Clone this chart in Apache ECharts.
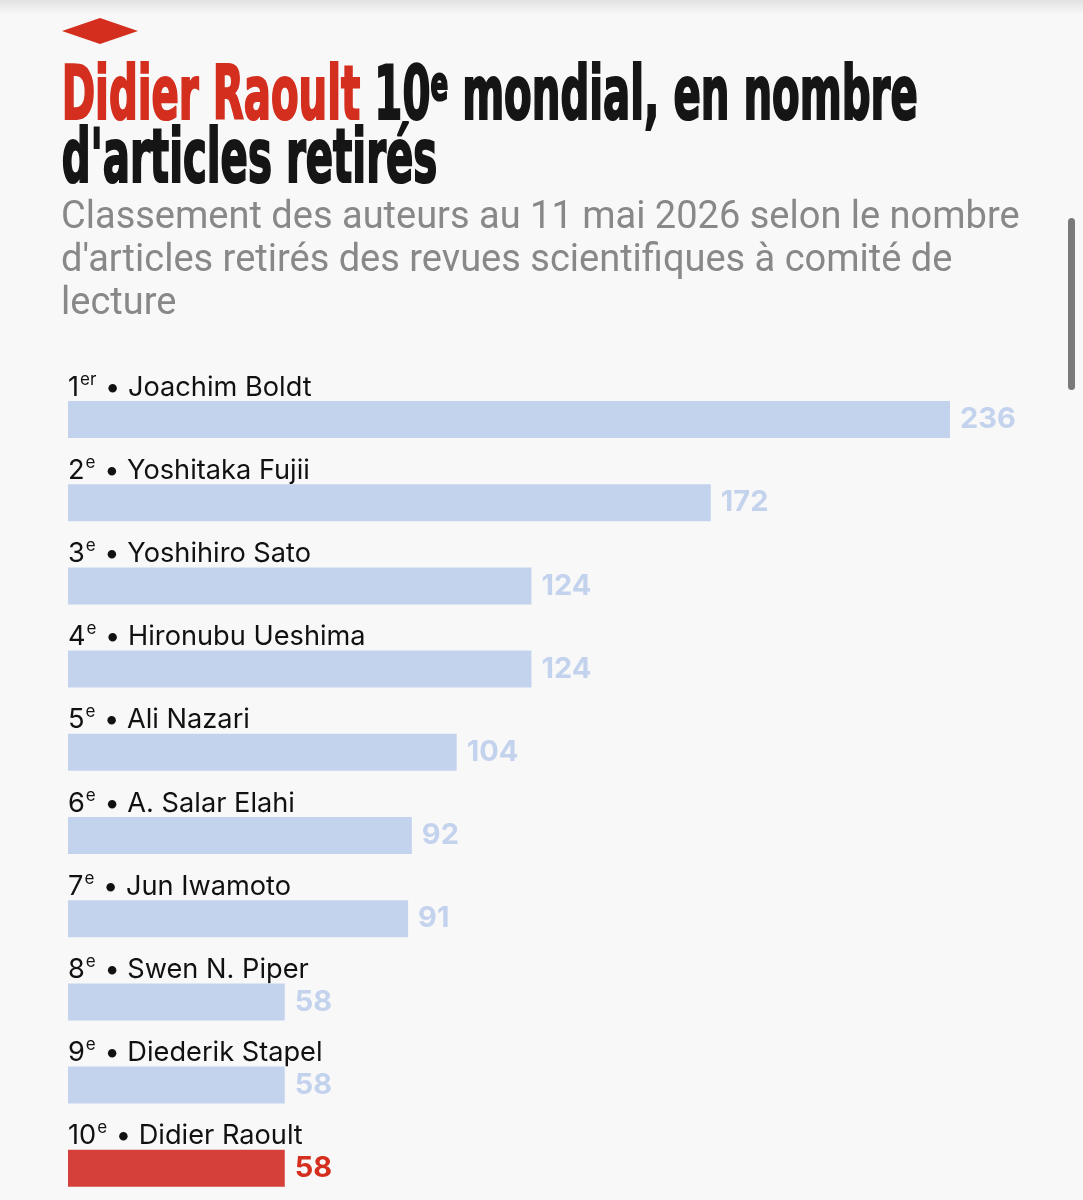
<!DOCTYPE html>
<html><head><meta charset="utf-8">
<script src="https://cdn.jsdelivr.net/npm/echarts@6/dist/echarts.min.js"></script>
<style>html,body{margin:0;padding:0;background:#f8f8f8;}#c{width:1083px;height:1200px;}</style>
</head><body><div id="c"></div>
<script>
const ranks = ['1', '2', '3', '4', '5', '6', '7', '8', '9', '10'];
const rankSuffix = ['er', 'e', 'e', 'e', 'e', 'e', 'e', 'e', 'e', 'e'];
const authors = ['Joachim Boldt', 'Yoshitaka Fujii', 'Yoshihiro Sato', 'Hironubu Ueshima', 'Ali Nazari', 'A. Salar Elahi', 'Jun Iwamoto', 'Swen N. Piper', 'Diederik Stapel', 'Didier Raoult'];
const retracted = [236, 172, 124, 124, 104, 92, 91, 58, 58, 58];
const highlight = 'Didier Raoult';

const BLUE = '#c4d3ed', RED = '#d6403a', RED_TXT = '#d42e1f';
const chart = echarts.init(document.getElementById('c'));

const valueData = retracted.map((v, i) => ({
  value: v,
  itemStyle: { color: authors[i] === highlight ? RED : BLUE },
  label: { color: authors[i] === highlight ? RED_TXT : BLUE }
}));

const TF = 'DejaVu Sans Condensed';
const titleStyle = (fill, size) => ({ fontFamily: TF, fontWeight: 'bold', fontSize: size, fill: fill, stroke: fill, lineWidth: 2.2, lineHeight: 74, verticalAlign: size > 50 ? 'bottom' : 'top' });

chart.setOption({
  backgroundColor: '#f8f8f8',
  animation: false,
  grid: { left: 68, top: 419.5, width: 882, height: 748.8, containLabel: false },
  xAxis: { type: 'value', min: 0, max: 236, show: false },
  yAxis: { type: 'category', data: authors, inverse: true, show: false, boundaryGap: false },
  series: [
    {
      type: 'bar', data: valueData, barWidth: 37, z: 3,
      label: { show: true, position: 'right', distance: 10, fontFamily: 'Inter', fontWeight: 'bold', fontSize: 29 }
    },
    {
      type: 'bar', data: retracted, barWidth: 37, barGap: '-100%', z: 2,
      itemStyle: { color: 'rgba(0,0,0,0)' },
      label: {
        show: true, position: [0, 0], align: 'left', verticalAlign: 'bottom',
        formatter: p => '{n|' + ranks[p.dataIndex] + '}{s|' + rankSuffix[p.dataIndex] + '}{n| • ' + authors[p.dataIndex] + '}',
        rich: {
          n: { fontFamily: 'Inter', fontSize: 27.2, color: '#111', lineHeight: 30, verticalAlign: 'bottom' },
          s: { fontFamily: 'Inter', fontSize: 17, color: '#111', lineHeight: 30, verticalAlign: 'top', padding: [0, 1, 12, 1] }
        }
      }
    }
  ],
  graphic: [
    { type: 'rect', shape: { x: 0, y: 0, width: 1083, height: 14 }, style: { fill: new echarts.graphic.LinearGradient(0, 0, 0, 1, [{ offset: 0, color: '#e2e2e2' }, { offset: 1, color: '#f8f8f8' }]) } },
    { type: 'polygon', shape: { points: [[62, 31], [100, 18], [138, 31], [100, 44]] }, style: { fill: '#d42e1f' } },
    {
      type: 'text', left: 61, top: 62, scaleX: 0.605,
      style: {
        text: '{r|Didier Raoult }{b|10}{sup|e}{b| mondial, en nombre}',
        rich: {
          r: titleStyle('#d42e1f', 74),
          b: titleStyle('#151515', 74),
          sup: titleStyle('#151515', 48)
        }
      }
    },
    {
      type: 'text', left: 61, top: 125, scaleX: 0.605,
      style: { text: "d'articles retirés", fontFamily: TF, fontWeight: 'bold', fontSize: 74, fill: '#151515', stroke: '#151515', lineWidth: 2.2 }
    },
    {
      type: 'text', left: 61, top: 197,
      style: {
        text: "Classement des auteurs au 11 mai 2026 selon le nombre\nd'articles retirés des revues scientifiques à comité de\nlecture",
        fontFamily: 'Roboto', fontSize: 38, lineHeight: 43, fill: '#888888'
      }
    },
    { type: 'rect', shape: { x: 1068, y: 218, width: 7, height: 172, r: 3.5 }, style: { fill: '#7a7a7a' } }
  ]
});
</script></body></html>
